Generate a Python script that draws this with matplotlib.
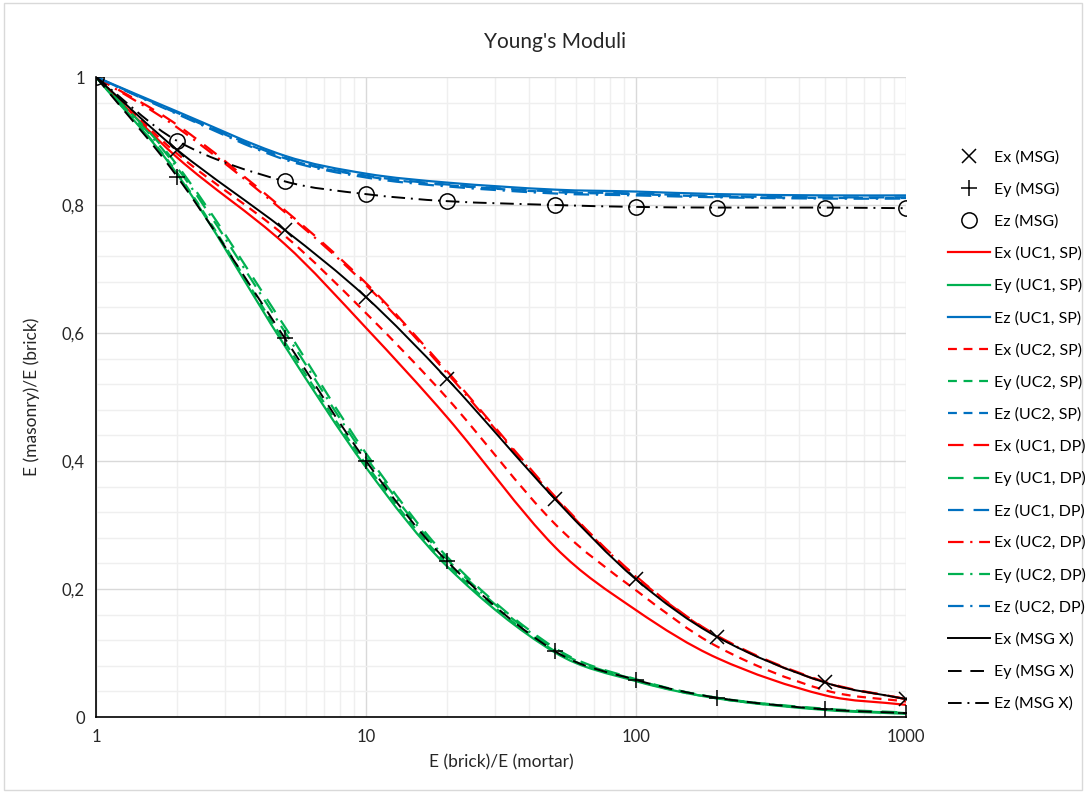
import numpy as np
import matplotlib.pyplot as plt
from matplotlib.path import Path
from matplotlib.patches import PathPatch, Rectangle
from matplotlib.lines import Line2D
from matplotlib.ticker import FixedLocator, LogLocator, NullFormatter, FuncFormatter

plt.rcParams['font.family'] = ['Lato', 'DejaVu Sans']

# E(brick)/E(mortar)
ratio = [1, 2, 5, 10, 20, 50, 100, 200, 500, 1000]

# MSG (markers) and MSG X (black lines)
ex_msg = [1, 0.886, 0.761, 0.656, 0.528, 0.341, 0.215, 0.125, 0.054, 0.028]
ey_msg = [1, 0.844, 0.592, 0.400, 0.243, 0.103, 0.058, 0.030, 0.012, 0.006]
ez_msg = [1, 0.900, 0.837, 0.817, 0.806, 0.800, 0.797, 0.796, 0.796, 0.795]

# UC1 / UC2, single and double precision
ex_uc1_sp = [1, 0.874, 0.739, 0.608, 0.468, 0.266, 0.167, 0.092, 0.034, 0.019]
ey_uc1_sp = [1, 0.848, 0.580, 0.390, 0.235, 0.101, 0.056, 0.029, 0.011, 0.005]
ez_uc1_sp = [1, 0.946, 0.877, 0.849, 0.835, 0.824, 0.821, 0.817, 0.815, 0.815]

ex_uc2_sp = [1, 0.880, 0.752, 0.631, 0.498, 0.302, 0.198, 0.110, 0.042, 0.024]
ey_uc2_sp = [1, 0.850, 0.586, 0.395, 0.239, 0.103, 0.057, 0.029, 0.012, 0.006]
ez_uc2_sp = [1, 0.943, 0.873, 0.845, 0.831, 0.820, 0.817, 0.813, 0.811, 0.811]

ex_uc1_dp = [1, 0.925, 0.792, 0.678, 0.540, 0.345, 0.220, 0.127, 0.055, 0.028]
ey_uc1_dp = [1, 0.862, 0.610, 0.412, 0.250, 0.108, 0.059, 0.030, 0.013, 0.007]
ez_uc1_dp = [1, 0.944, 0.874, 0.846, 0.832, 0.821, 0.818, 0.814, 0.812, 0.812]

ex_uc2_dp = [1, 0.921, 0.789, 0.675, 0.537, 0.343, 0.219, 0.126, 0.054, 0.028]
ey_uc2_dp = [1, 0.858, 0.602, 0.406, 0.246, 0.106, 0.058, 0.030, 0.012, 0.006]
ez_uc2_dp = [1, 0.942, 0.871, 0.843, 0.829, 0.818, 0.815, 0.812, 0.810, 0.810]

y_ticks = [0, 0.2, 0.4, 0.6, 0.8, 1.0]
x_ticks = [1, 10, 100, 1000]

RED = '#ff0000'
GREEN = '#00b050'
BLUE = '#0070c0'

SOLID = '-'
SHORT = (0, (4, 3))
LONG = (0, (7, 4.5))
DASHDOT = (0, (7, 3, 1, 3))


def smooth_path(x, y):
    # smoothed line like excel: cubic hermite pieces through the points, in log x
    lx = np.log10(x)
    y = np.asarray(y, float)
    n = len(lx)
    m = np.empty(n)
    m[0] = (y[1] - y[0]) / (lx[1] - lx[0])
    m[-1] = (y[-1] - y[-2]) / (lx[-1] - lx[-2])
    m[1:-1] = (y[2:] - y[:-2]) / (lx[2:] - lx[:-2])
    verts = [(lx[0], y[0])]
    for i in range(n - 1):
        h = lx[i + 1] - lx[i]
        verts.append((lx[i] + h / 3, y[i] + m[i] * h / 3))
        verts.append((lx[i + 1] - h / 3, y[i + 1] - m[i + 1] * h / 3))
        verts.append((lx[i + 1], y[i + 1]))
    verts = np.array(verts)
    verts[:, 0] = 10 ** verts[:, 0]
    codes = [Path.MOVETO] + [Path.CURVE4] * (len(verts) - 1)
    return Path(verts, codes)


def curve(ax, y, color, ls, label, lw=1.6):
    ax.add_patch(PathPatch(smooth_path(ratio, y), fill=False, edgecolor=color,
                           lw=lw, linestyle=ls, capstyle='butt', zorder=3))
    return Line2D([], [], color=color, lw=lw, linestyle=ls, label=label)


fig = plt.figure(figsize=(10.86, 7.93), dpi=100)
ax = fig.add_axes([96 / 1086, 76 / 793, 810 / 1086, 640 / 793])

handles = []
handles.append(ax.plot(ratio, ex_msg, ls='none', marker='x', ms=10, mew=1.1,
                       color='black', label='Ex (MSG)', zorder=5)[0])
handles.append(ax.plot(ratio, ey_msg, ls='none', marker='+', ms=11, mew=1.1,
                       color='black', label='Ey (MSG)', zorder=5)[0])
handles.append(ax.plot(ratio, ez_msg, ls='none', marker='o', ms=11, mew=1.1,
                       mfc='none', color='black', label='Ez (MSG)', zorder=5)[0])

handles.append(curve(ax, ex_uc1_sp, RED, SOLID, 'Ex (UC1, SP)'))
handles.append(curve(ax, ey_uc1_sp, GREEN, SOLID, 'Ey (UC1, SP)'))
handles.append(curve(ax, ez_uc1_sp, BLUE, SOLID, 'Ez (UC1, SP)'))
handles.append(curve(ax, ex_uc2_sp, RED, SHORT, 'Ex (UC2, SP)'))
handles.append(curve(ax, ey_uc2_sp, GREEN, SHORT, 'Ey (UC2, SP)'))
handles.append(curve(ax, ez_uc2_sp, BLUE, SHORT, 'Ez (UC2, SP)'))
handles.append(curve(ax, ex_uc1_dp, RED, LONG, 'Ex (UC1, DP)'))
handles.append(curve(ax, ey_uc1_dp, GREEN, LONG, 'Ey (UC1, DP)'))
handles.append(curve(ax, ez_uc1_dp, BLUE, LONG, 'Ez (UC1, DP)'))
handles.append(curve(ax, ex_uc2_dp, RED, DASHDOT, 'Ex (UC2, DP)'))
handles.append(curve(ax, ey_uc2_dp, GREEN, DASHDOT, 'Ey (UC2, DP)'))
handles.append(curve(ax, ez_uc2_dp, BLUE, DASHDOT, 'Ez (UC2, DP)'))
handles.append(curve(ax, ex_msg, 'black', SOLID, 'Ex (MSG X)', lw=1.4))
handles.append(curve(ax, ey_msg, 'black', LONG, 'Ey (MSG X)', lw=1.4))
handles.append(curve(ax, ez_msg, 'black', DASHDOT, 'Ez (MSG X)', lw=1.4))

ax.set_xscale('log')
ax.set_xlim(1, 1000)
ax.set_ylim(0, 1)
ax.xaxis.set_major_locator(FixedLocator(x_ticks))
ax.xaxis.set_minor_locator(LogLocator(base=10, subs=range(2, 10)))
ax.xaxis.set_minor_formatter(NullFormatter())
ax.xaxis.set_major_formatter(FuncFormatter(lambda v, p: '%d' % v))
ax.yaxis.set_major_locator(FixedLocator(y_ticks))
ax.yaxis.set_minor_locator(FixedLocator(np.arange(0, 1.0001, 0.04)))
ax.yaxis.set_major_formatter(FuncFormatter(lambda v, p: ('%g' % round(v, 2)).replace('.', ',')))

ax.grid(which='major', color='#d9d9d9', lw=1.0)
ax.grid(which='minor', color='#efefef', lw=1.0)
ax.set_axisbelow(True)
for s in ['top', 'right']:
    ax.spines[s].set_visible(False)
for s in ['left', 'bottom']:
    ax.spines[s].set_color('black')
    ax.spines[s].set_linewidth(1.2)
ax.tick_params(which='both', length=0, labelsize=12, colors='#262626')
ax.tick_params(axis='x', pad=9)
ax.tick_params(axis='y', pad=8)

ax.set_xlabel('E (brick)/E (mortar)', fontsize=12.5, color='#262626', labelpad=6)
ax.set_ylabel('E (masonry)/E (brick)', fontsize=12.5, color='#262626', labelpad=16)
fig.text(555 / 1086, 1 - 42 / 793, "Young's Moduli", ha='center', va='center',
         fontsize=15, color='#262626')

fig.legend(handles=handles, loc='upper left', bbox_to_anchor=(948 / 1086, 1 - 150 / 793),
           frameon=False, fontsize=11.5, handlelength=2.6, handletextpad=0.3,
           labelspacing=1.1, borderpad=0, borderaxespad=0)

fig.patches.append(Rectangle((0.004, 0.004), 0.992, 0.992, transform=fig.transFigure,
                             fill=False, edgecolor='#d9d9d9', lw=1))

fig.savefig('out.png', dpi=100)
